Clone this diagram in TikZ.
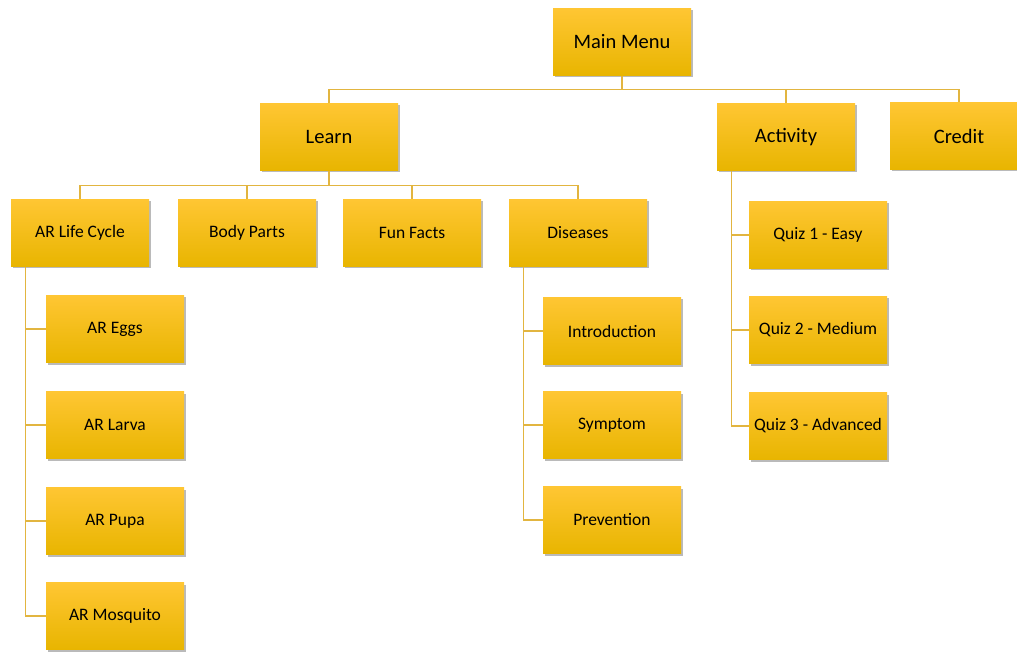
\documentclass[tikz,border=0pt]{standalone}
\usepackage{fontspec}
\setmainfont{Carlito}
\usetikzlibrary{shadows}
\definecolor{boxtop}{HTML}{FFC633}
\definecolor{boxmid}{HTML}{FFC000}
\definecolor{boxbot}{HTML}{E8B500}
\definecolor{linkgold}{HTML}{E2B540}
\begin{document}
\begin{tikzpicture}[x=1pt,y=-1pt,
    box/.style={rectangle,minimum width=138pt,minimum height=67pt,inner sep=0pt,
      top color=boxtop,middle color=boxmid,bottom color=boxbot,
      drop shadow={shadow xshift=1.5pt,shadow yshift=-2pt,opacity=0.45,fill=black!60},
      font=\fontsize{17.5}{20}\selectfont},
    bigbox/.style={box,font=\fontsize{20.5}{24}\selectfont},
    link/.style={draw=linkgold,line width=1.1pt}] %
    \useasboundingbox (0,0) rectangle (1017,652);%
    % top level
    \node[bigbox] (main) at (622,42) {Main Menu};%
    \node[bigbox] (learn) at (329,137) {Learn};%
    \node[bigbox] (activity) at (786,137) {Activity};%
    \node[bigbox] (credit) at (959,136) {Credit};%
    % learn branch
    \node[box] (lifecycle) at (80,233) {AR Life Cycle};%
    \node[box] (body) at (247,233) {Body Parts};%
    \node[box] (facts) at (412,233) {Fun Facts};%
    \node[box] (diseases) at (578,233) {Diseases};%
    % life cycle stages
    \node[box] (eggs) at (115,329) {AR Eggs};%
    \node[box] (larva) at (115,425) {AR Larva};%
    \node[box] (pupa) at (115,521) {AR Pupa};%
    \node[box] (mosquito) at (115,616) {AR Mosquito};%
    % diseases
    \node[box] (intro) at (612,331) {Introduction};%
    \node[box] (symptom) at (612,425) {Symptom};%
    \node[box] (prevention) at (612,520) {Prevention};%
    % quizzes
    \node[box] (quiz1) at (818,235) {Quiz 1 - Easy};%
    \node[box] (quiz2) at (818,330) {Quiz 2 - Medium};%
    \node[box] (quiz3) at (818,426) {Quiz 3 - Advanced};%

    % connectors
    \draw[link] (main.south) -- ++(0,14) coordinate (topbus);%
    \draw[link] (topbus) -| (learn.north);%
    \draw[link] (topbus) -| (activity.north);%
    \draw[link] (topbus) -| (credit.north);%

    \draw[link] (learn.south) -- ++(0,15) coordinate (learnbus);%
    \draw[link] (learnbus) -| (lifecycle.north);%
    \draw[link] (learnbus) -| (body.north);%
    \draw[link] (learnbus) -| (facts.north);%
    \draw[link] (learnbus) -| (diseases.north);%

    \foreach \stage in {eggs,larva,pupa,mosquito}%
      \draw[link] ([xshift=15pt]lifecycle.south west) |- (\stage.west);%
    \foreach \item in {intro,symptom,prevention}%
      \draw[link] ([xshift=15pt]diseases.south west) |- (\item.west);%
    \foreach \quiz in {quiz1,quiz2,quiz3}%
      \draw[link] ([xshift=15pt]activity.south west) |- (\quiz.west);%
  \end{tikzpicture}
\end{document}
